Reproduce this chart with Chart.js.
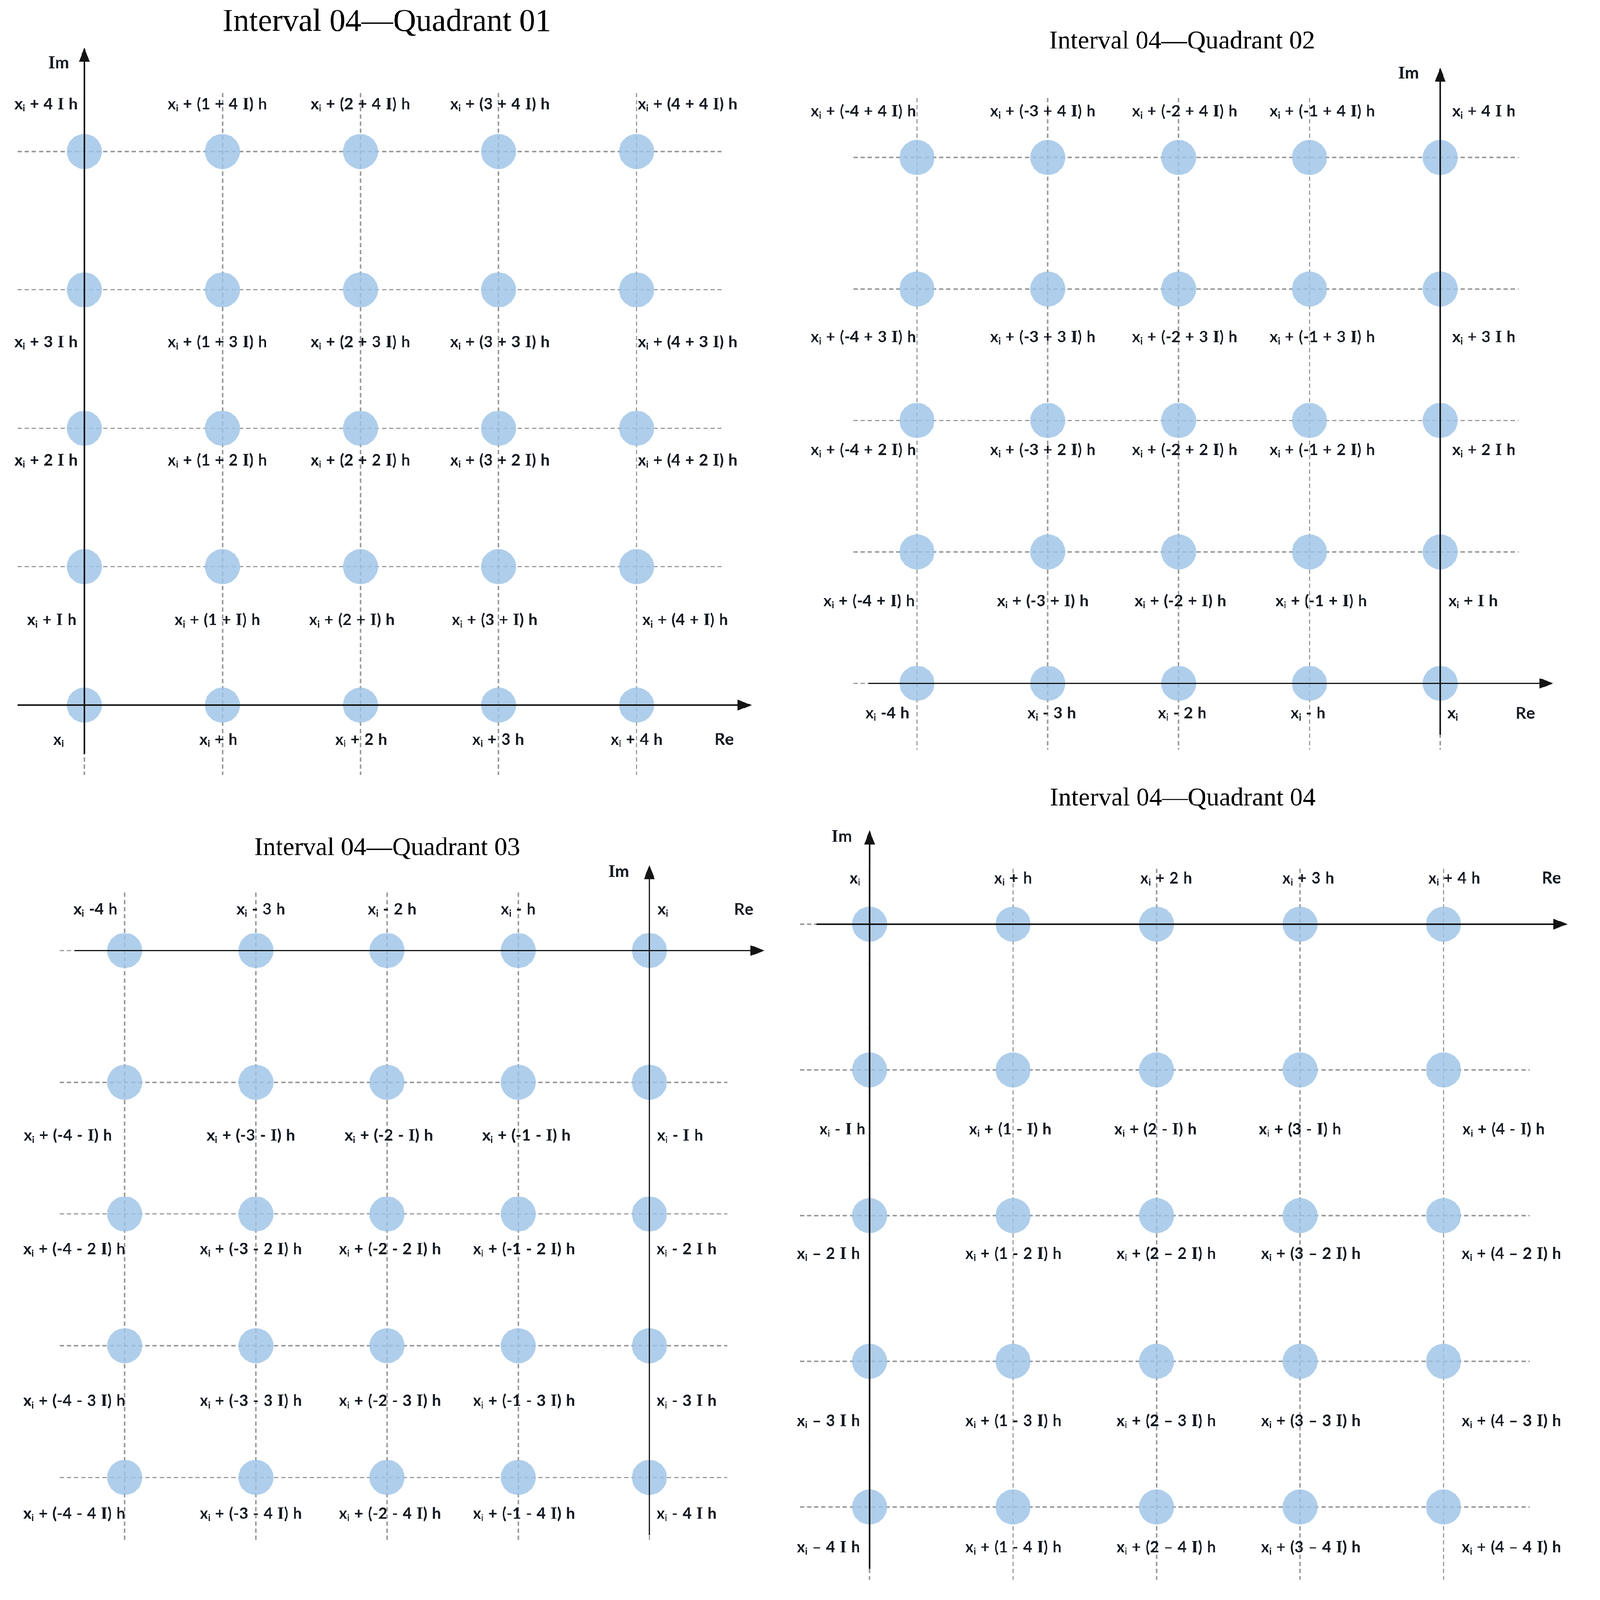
<!DOCTYPE html>
<html>
<head>
<meta charset="utf-8">
<script src="https://cdn.jsdelivr.net/npm/chart.js@4.4.1/dist/chart.umd.min.js"></script>
<style>
  html, body { margin: 0; padding: 0; background: #fff; overflow: hidden; }
  #page { position: relative; width: 4430px; height: 4479px; background: #fff; overflow: hidden; transform-origin: 0 0; }
  #page canvas { position: absolute; }
</style>
</head>
<body>
<div id="page">
  <canvas id="q1"></canvas>
  <canvas id="q2"></canvas>
  <canvas id="q3"></canvas>
  <canvas id="q4"></canvas>
</div>
<script>
// ---- data: grid values and point labels (rows listed top to bottom) ----
const q1Real = [0, 1, 2, 3, 4];
const q1Imag = [4, 3, 2, 1, 0];
const q1Labels = [
  ['x_i + 4 I h', 'x_i + (1 + 4 I) h', 'x_i + (2 + 4 I) h', 'x_i + (3 + 4 I) h', 'x_i + (4 + 4 I) h'],
  ['x_i + 3 I h', 'x_i + (1 + 3 I) h', 'x_i + (2 + 3 I) h', 'x_i + (3 + 3 I) h', 'x_i + (4 + 3 I) h'],
  ['x_i + 2 I h', 'x_i + (1 + 2 I) h', 'x_i + (2 + 2 I) h', 'x_i + (3 + 2 I) h', 'x_i + (4 + 2 I) h'],
  ['x_i + I h', 'x_i + (1 + I) h', 'x_i + (2 + I) h', 'x_i + (3 + I) h', 'x_i + (4 + I) h'],
  ['x_i', 'x_i + h', 'x_i + 2 h', 'x_i + 3 h', 'x_i + 4 h']
];

const q2Real = [-4, -3, -2, -1, 0];
const q2Imag = [4, 3, 2, 1, 0];
const q2Labels = [
  ['x_i + (-4 + 4 I) h', 'x_i + (-3 + 4 I) h', 'x_i + (-2 + 4 I) h', 'x_i + (-1 + 4 I) h', 'x_i + 4 I h'],
  ['x_i + (-4 + 3 I) h', 'x_i + (-3 + 3 I) h', 'x_i + (-2 + 3 I) h', 'x_i + (-1 + 3 I) h', 'x_i + 3 I h'],
  ['x_i + (-4 + 2 I) h', 'x_i + (-3 + 2 I) h', 'x_i + (-2 + 2 I) h', 'x_i + (-1 + 2 I) h', 'x_i + 2 I h'],
  ['x_i + (-4 + I) h', 'x_i + (-3 + I) h', 'x_i + (-2 + I) h', 'x_i + (-1 + I) h', 'x_i + I h'],
  ['x_i -4 h', 'x_i - 3 h', 'x_i - 2 h', 'x_i - h', 'x_i']
];

const q3Real = [-4, -3, -2, -1, 0];
const q3Imag = [0, -1, -2, -3, -4];
const q3Labels = [
  ['x_i -4 h', 'x_i - 3 h', 'x_i - 2 h', 'x_i - h', 'x_i'],
  ['x_i + (-4 - I) h', 'x_i + (-3 - I) h', 'x_i + (-2 - I) h', 'x_i + (-1 - I) h', 'x_i - I h'],
  ['x_i + (-4 - 2 I) h', 'x_i + (-3 - 2 I) h', 'x_i + (-2 - 2 I) h', 'x_i + (-1 - 2 I) h', 'x_i - 2 I h'],
  ['x_i + (-4 - 3 I) h', 'x_i + (-3 - 3 I) h', 'x_i + (-2 - 3 I) h', 'x_i + (-1 - 3 I) h', 'x_i - 3 I h'],
  ['x_i + (-4 - 4 I) h', 'x_i + (-3 - 4 I) h', 'x_i + (-2 - 4 I) h', 'x_i + (-1 - 4 I) h', 'x_i - 4 I h']
];

const q4Real = [0, 1, 2, 3, 4];
const q4Imag = [0, -1, -2, -3, -4];
const q4Labels = [
  ['x_i', 'x_i + h', 'x_i + 2 h', 'x_i + 3 h', 'x_i + 4 h'],
  ['x_i - I h', 'x_i + (1 - I) h', 'x_i + (2 - I) h', 'x_i + (3 - I) h', 'x_i + (4 - I) h'],
  ['x_i \u2013 2 I h', 'x_i + (1 - 2 I) h', 'x_i + (2 \u2013 2 I) h', 'x_i + (3 \u2013 2 I) h', 'x_i + (4 \u2013 2 I) h'],
  ['x_i \u2013 3 I h', 'x_i + (1 - 3 I) h', 'x_i + (2 \u2013 3 I) h', 'x_i + (3 \u2013 3 I) h', 'x_i + (4 \u2013 3 I) h'],
  ['x_i \u2013 4 I h', 'x_i + (1 - 4 I) h', 'x_i + (2 \u2013 4 I) h', 'x_i + (3 \u2013 4 I) h', 'x_i + (4 \u2013 4 I) h']
];

// ---- layout (page pixels) and label offsets from the grid point ----
const SANS = "Lato, 'Open Sans', sans-serif";
const SERIF = "'Liberation Serif', 'DejaVu Serif', serif";
const LABEL_SIZE = 44;

const quads = [
  {
    id: 'q1', title: 'Interval 04\u2014Quadrant 01', titleSize: 89, titleAt: [1083, 63],
    box: [0, 0, 2215, 2250], area: [49, 260, 2020, 2170],
    xRange: [-0.484, 4.616], yRange: [-0.506, 4.423],
    reAxis: [-0.484, 4.836], imAxis: [-0.356, 4.751],
    imText: [-0.186, 4.643], reText: [4.634, -0.245],
    real: q1Real, imag: q1Imag, labels: q1Labels,
    dx: [[-107, -14, 0, 4, 143], [-107, -14, 0, 4, 143], [-107, -14, 0, 4, 143], [-91, -14, -24, -11, 136], [-72, -11, 2, -1, 0]],
    dy: [-134, 145, 88, 148, 95]
  },
  {
    id: 'q2', title: 'Interval 04\u2014Quadrant 02', titleSize: 72, titleAt: [3309, 117],
    box: [2215, 0, 2215, 2170], area: [2389, 274, 4252, 2098],
    xRange: [-4.486, 0.601], yRange: [-0.503, 4.454],
    reAxis: [-4.371, 0.866], imAxis: [-0.391, 4.685],
    imText: [-0.243, 4.647], reText: [0.650, -0.223],
    real: q2Real, imag: q2Imag, labels: q2Labels,
    dx: [[-150, -14, 17, 36, 122], [-150, -14, 17, 36, 122], [-150, -14, 17, 36, 122], [-134, -14, 5, 33, 92], [-83, 11, 10, -4, 35]],
    dy: [-131, 133, 81, 136, 82]
  },
  {
    id: 'q3', title: 'Interval 04\u2014Quadrant 03', titleSize: 72, titleAt: [1084, 2375],
    box: [0, 2250, 2215, 2229], area: [167, 2499, 2036, 4314],
    xRange: [-4.496, 0.594], yRange: [-4.483, 0.439],
    reAxis: [-4.381, 0.880], imAxis: [-4.437, 0.651],
    imText: [-0.234, 0.602], reText: [0.719, 0.317],
    real: q3Real, imag: q3Imag, labels: q3Labels,
    dx: [[-82, 14, 14, 0, 38], [-159, -14, 5, 23, 86], [-141, -14, 8, 16, 104], [-141, -14, 8, 16, 104], [-141, -14, 8, 16, 104]],
    dy: [-117, 148, 97, 153, 100]
  },
  {
    id: 'q4', title: 'Interval 04\u2014Quadrant 04', titleSize: 72, titleAt: [3311, 2236],
    box: [2190, 2170, 2240, 2309], area: [2212, 2432, 4282, 4422],
    xRange: [-0.486, 4.600], yRange: [-4.498, 0.380],
    reAxis: [-0.371, 4.865], imAxis: [-4.424, 0.645],
    imText: [-0.194, 0.605], reText: [4.752, 0.319],
    real: q4Real, imag: q4Imag, labels: q4Labels,
    dx: [[-41, 0, 27, 23, 30], [-76, -8, -3, 0, 168], [-115, 1, 27, 30, 190], [-115, 1, 27, 30, 190], [-115, 1, 27, 30, 190]],
    dy: [-130, 165, 105, 165, 111]
  }
];

// fit the 4430 x 4479 drawing into whatever viewport we get
const page = document.getElementById('page');
const fit = Math.min(window.innerWidth / 4430, window.innerHeight / 4479);
page.style.transform = `scale(${fit})`;

// draws "x_i + (1 + 4 I) h": "_i" as subscript, "I" in a serif face
function drawRich(ctx, str, cx, cy, size) {
  const runs = [];
  for (let k = 0; k < str.length; k++) {
    const ch = str[k];
    if (ch === '_') {
      runs.push({ t: str[k + 1], font: `bold ${Math.round(size * 0.6)}px ${SANS}`, dy: size * 0.15 });
      k++;
    } else if (ch === ' ') {
      runs.push({ gap: size * 0.3 });
    } else {
      runs.push({ t: ch, font: ch === 'I' ? `bold ${size * 1.08}px ${SERIF}` : `bold ${size}px ${SANS}`, dy: 0 });
    }
  }
  let total = 0;
  runs.forEach(r => {
    if (r.gap) { r.w = r.gap; } else { ctx.font = r.font; r.w = ctx.measureText(r.t).width; }
    total += r.w;
  });
  let x = cx - total / 2;
  const base = cy + size * 0.36;
  ctx.textAlign = 'left';
  ctx.textBaseline = 'alphabetic';
  runs.forEach(r => {
    if (!r.gap) { ctx.font = r.font; ctx.fillText(r.t, x, base + r.dy); }
    x += r.w;
  });
}

function arrowLine(ctx, x1, y1, x2, y2) {
  const a = Math.atan2(y2 - y1, x2 - x1);
  const len = 40, half = 15;
  ctx.beginPath();
  ctx.moveTo(x1, y1);
  ctx.lineTo(x2 - Math.cos(a) * len * 0.8, y2 - Math.sin(a) * len * 0.8);
  ctx.stroke();
  ctx.beginPath();
  ctx.moveTo(x2, y2);
  ctx.lineTo(x2 - Math.cos(a) * len + Math.sin(a) * half, y2 - Math.sin(a) * len - Math.cos(a) * half);
  ctx.lineTo(x2 - Math.cos(a) * len - Math.sin(a) * half, y2 - Math.sin(a) * len + Math.cos(a) * half);
  ctx.closePath();
  ctx.fill();
}

function decor(q) {
  return {
    id: 'decor_' + q.id,
    afterDatasetsDraw(chart) {
      const ctx = chart.ctx;
      const xs = chart.scales.x, ys = chart.scales.y;
      ctx.save();
      // axes
      ctx.strokeStyle = '#141414';
      ctx.fillStyle = '#141414';
      ctx.lineWidth = 4;
      const y0 = ys.getPixelForValue(0), x0 = xs.getPixelForValue(0);
      arrowLine(ctx, xs.getPixelForValue(q.reAxis[0]), y0, xs.getPixelForValue(q.reAxis[1]), y0);
      arrowLine(ctx, x0, ys.getPixelForValue(q.imAxis[0]), x0, ys.getPixelForValue(q.imAxis[1]));
      // axis names
      ctx.fillStyle = '#151a22';
      drawRich(ctx, 'Im', xs.getPixelForValue(q.imText[0]), ys.getPixelForValue(q.imText[1]), 46);
      drawRich(ctx, 'Re', xs.getPixelForValue(q.reText[0]), ys.getPixelForValue(q.reText[1]), 46);
      // point labels
      q.labels.forEach((row, r) => {
        row.forEach((txt, c) => {
          const px = xs.getPixelForValue(q.real[c]) + q.dx[r][c];
          const py = ys.getPixelForValue(q.imag[r]) + q.dy[r];
          drawRich(ctx, txt, px, py, LABEL_SIZE);
        });
      });
      // title
      ctx.fillStyle = '#000';
      ctx.font = `${q.titleSize}px ${SERIF}`;
      ctx.textAlign = 'center';
      ctx.textBaseline = 'middle';
      ctx.fillText(q.title, q.titleAt[0] - q.box[0], q.titleAt[1] - q.box[1]);
      ctx.restore();
    }
  };
}

quads.forEach(q => {
  const canvas = document.getElementById(q.id);
  const [bl, bt, bw, bh] = q.box;
  canvas.width = bw;
  canvas.height = bh;
  canvas.style.left = bl + 'px';
  canvas.style.top = bt + 'px';
  canvas.style.width = bw + 'px';
  canvas.style.height = bh + 'px';

  const points = q.imag.flatMap(im => q.real.map(re => ({ x: re, y: im })));
  const gridStyle = { color: '#9c9c9c', lineWidth: 4, drawTicks: false };
  const borderStyle = { display: false, dash: [12, 8] };

  new Chart(canvas, {
    type: 'scatter',
    data: {
      datasets: [{
        data: points,
        pointRadius: 49,
        pointHoverRadius: 49,
        pointBorderWidth: 0,
        pointBackgroundColor: 'rgba(157, 195, 230, 0.82)'
      }]
    },
    options: {
      responsive: false,
      animation: false,
      devicePixelRatio: 1,
      events: [],
      layout: {
        padding: {
          left: q.area[0] - bl,
          top: q.area[1] - bt,
          right: bl + bw - q.area[2],
          bottom: bt + bh - q.area[3]
        }
      },
      plugins: { legend: { display: false }, tooltip: { enabled: false } },
      scales: {
        x: {
          type: 'linear', min: q.xRange[0], max: q.xRange[1],
          afterBuildTicks: s => { s.ticks = q.real.map(v => ({ value: v })); },
          afterFit: s => { s.height = 0; },
          ticks: { display: false },
          grid: gridStyle, border: borderStyle
        },
        y: {
          type: 'linear', min: q.yRange[0], max: q.yRange[1],
          afterBuildTicks: s => { s.ticks = q.imag.map(v => ({ value: v })); },
          afterFit: s => { s.width = 0; },
          ticks: { display: false },
          grid: gridStyle, border: borderStyle
        }
      }
    },
    plugins: [decor(q)]
  });
});
</script>
</body>
</html>
